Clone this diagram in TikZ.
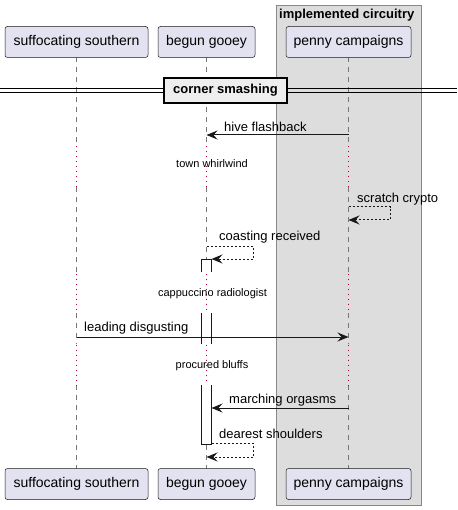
\documentclass[tikz,border=0pt]{standalone}
\usepackage{fontspec}
\setmainfont{Liberation Sans}
\usetikzlibrary{arrows.meta}
\definecolor{partfill}{HTML}{E2E2F0}
\definecolor{lineclr}{HTML}{181818}
\definecolor{lifeclr}{HTML}{777777}
\definecolor{grpfill}{HTML}{DDDDDD}
\definecolor{grpdraw}{HTML}{888888}
\definecolor{divfill}{HTML}{EEEEEE}
\definecolor{delayclr}{HTML}{B0004A}
\begin{document}
\begin{tikzpicture}[x=1pt,y=-1pt,
  part/.style={draw=lineclr, line width=0.5pt, fill=partfill, rounded corners=2.5pt,
    minimum width=#1, minimum height=31pt, inner sep=0pt, font=\fontsize{14}{16}\selectfont},
  lifeln/.style={draw=lifeclr, line width=0.6pt, dash pattern=on 5pt off 5pt},
  delayln/.style={draw=delayclr, line width=1pt, dash pattern=on 1pt off 4pt},
  msg/.style={draw=lineclr, line width=1pt, -{Stealth[length=11pt,width=9pt,inset=4pt]}},
  retmsg/.style={msg, dash pattern=on 2pt off 2pt},
  lbl/.style={font=\fontsize{13}{15}\selectfont, anchor=west, inner sep=0pt},
  dlbl/.style={font=\fontsize{11}{13}\selectfont, anchor=center, inner sep=0pt},
  actbox/.style={draw=lineclr, line width=1pt},
  divline/.style={draw=black, line width=1pt}
]
\useasboundingbox (0,0) rectangle (457,510);
% group
\draw[fill=grpfill, draw=grpdraw, line width=1pt] (276,6) rectangle (421,505);
\node[font=\bfseries\fontsize{13}{15}\selectfont, anchor=west, inner sep=0pt] (grpt) at (279,15) {implemented circuitry};

% lifelines
\foreach \x in {76.5,206.5,348.5}{
  \draw[lifeln] (\x,57.5) -- (\x,146);
  \draw[lifeln] (\x,187) -- (\x,273);
  \draw[lifeln] (\x,313) -- (\x,344);
  \draw[lifeln] (\x,385) -- (\x,468.5);
  \draw[delayln] (\x,146.5) -- (\x,187);
  \draw[delayln] (\x,273.5) -- (\x,313);
  \draw[delayln] (\x,344.5) -- (\x,385);
}

% participants
\node[part=143pt] (s1) at (76.5,42) {suffocating southern};
\node[part=97pt] (b1) at (206.5,42) {begun gooey};
\node[part=125pt] (p1) at (348.5,42) {penny campaigns};
\node[part=143pt] (s2) at (76.5,484) {suffocating southern};
\node[part=97pt] (b2) at (206.5,484) {begun gooey};
\node[part=125pt] (p2) at (348.5,484) {penny campaigns};

% divider
\draw[divline] (0,88.5) -- (164,88.5) (0,92.5) -- (164,92.5);
\draw[divline] (287,88.5) -- (457,88.5) (287,92.5) -- (457,92.5);
\node[draw=black, line width=2pt, fill=divfill, minimum width=123pt, minimum height=25pt,
  inner sep=0pt, font=\bfseries\fontsize{13}{15}\selectfont] (div) at (225.5,90.5) {corner smashing};

% coordinates
\coordinate (hfA) at (348.5,135); \coordinate (hfB) at (206.5,135);
\coordinate (scA) at (348.5,207); \coordinate (scB) at (390,207);
\coordinate (scC) at (390,220); \coordinate (scD) at (348.5,220);
\coordinate (crA) at (206.5,246); \coordinate (crB) at (253,246);
\coordinate (crC) at (253,259); \coordinate (crD) at (211.5,259);
\coordinate (ldA) at (76.5,337); \coordinate (ldB) at (348.5,337);
\coordinate (moA) at (348.5,408); \coordinate (moB) at (211.5,408);
\coordinate (dsA) at (211.5,443); \coordinate (dsB) at (253,443);
\coordinate (dsC) at (253,457); \coordinate (dsD) at (206.5,457);

% activation boxes
\fill[white] (201.5,259) rectangle (211.5,272);
\draw[actbox] (201.5,272) -- (201.5,259) -- (211.5,259) -- (211.5,272);
\fill[white] (201.5,313) rectangle (211.5,344);
\draw[actbox] (201.5,313) -- (201.5,344) (211.5,313) -- (211.5,344);
\fill[white] (201.5,385) rectangle (211.5,444);
\draw[actbox] (201.5,385) -- (201.5,444) -- (211.5,444) -- (211.5,385);

% messages
\draw[msg] (hfA) -- (hfB);
\node[lbl] (hfl) at (224,127) {hive flashback};
\node[dlbl] (d1) at (212,164) {town whirlwind};
\draw[retmsg] (scA) -- (scB) -- (scC) -- (scD);
\node[lbl] (scl) at (357,199) {scratch crypto};
\draw[retmsg] (crA) -- (crB) -- (crC) -- (crD);
\node[lbl] (crl) at (219,237) {coasting received};
\node[dlbl] (d2) at (212.5,294) {cappuccino radiologist};
\draw[msg] (ldA) -- (ldB);
\node[lbl] (ldl) at (84,328) {leading disgusting};
\node[dlbl] (d3) at (212,366) {procured bluffs};
\draw[msg] (moA) -- (moB);
\node[lbl] (mol) at (229,400) {marching orgasms};
\draw[retmsg] (dsA) -- (dsB) -- (dsC) -- (dsD);
\node[lbl] (dsl) at (219,434) {dearest shoulders};
\end{tikzpicture}
\end{document}
